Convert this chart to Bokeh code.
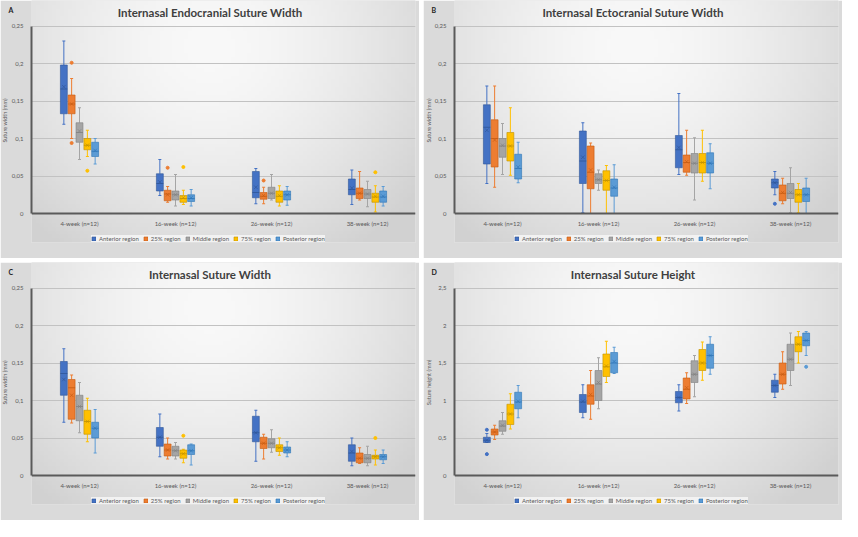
import numpy as np
from bokeh.plotting import figure
from bokeh.models import FactorRange, Range1d, Legend, LegendItem, Label, ColumnDataSource, FixedTicker
from bokeh.transform import dodge
from bokeh.layouts import row, column
from bokeh.embed import file_html
from bokeh.resources import INLINE
from bokeh.core.properties import value

weeks = ["4-week (n=12)", "16-week (n=12)", "26-week (n=12)", "38-week (n=12)"]
regions = ["Anterior region", "25% region", "Middle region", "75% region", "Posterior region"]
colors = ["#4472C4", "#ED7D31", "#A5A5A5", "#FFC000", "#5B9BD5"]
dark = ["#2F5597", "#C55A11", "#7F7F7F", "#BF9000", "#2E75B6"]

width_ticks = [0, 0.05, 0.1, 0.15, 0.2, 0.25]
width_tick_labels = ["0", "0,05", "0,1", "0,15", "0,2", "0,25"]
height_ticks = [0, 0.5, 1, 1.5, 2, 2.5]
height_tick_labels = ["0", "0,5", "1", "1,5", "2", "2,5"]

# ---- Panel A: Internasal Endocranial Suture Width ([week][region]) ----
A_upper = [[0.230, 0.180, 0.141, 0.111, 0.100], [0.072, 0.036, 0.052, 0.031, 0.032],
           [0.060, 0.035, 0.052, 0.037, 0.036], [0.058, 0.056, 0.043, 0.037, 0.036]]
A_q3 = [[0.198, 0.158, 0.121, 0.100, 0.095], [0.053, 0.031, 0.030, 0.024, 0.025],
        [0.056, 0.028, 0.035, 0.030, 0.030], [0.046, 0.034, 0.032, 0.027, 0.030]]
A_median = [[0.166, 0.146, 0.108, 0.091, 0.083], [0.040, 0.026, 0.025, 0.020, 0.020],
            [0.028, 0.023, 0.027, 0.023, 0.025], [0.032, 0.027, 0.026, 0.022, 0.022]]
A_q1 = [[0.133, 0.133, 0.095, 0.085, 0.076], [0.030, 0.017, 0.018, 0.015, 0.016],
        [0.021, 0.019, 0.020, 0.015, 0.018], [0.025, 0.020, 0.020, 0.015, 0.015]]
A_lower = [[0.119, 0.100, 0.072, 0.076, 0.066], [0.024, 0.015, 0.010, 0.012, 0.010],
           [0.013, 0.013, 0.018, 0.010, 0.011], [0.012, 0.018, 0.009, 0.002, 0.010]]
A_mean = [[0.169, 0.146, 0.110, 0.091, 0.084], [0.042, 0.025, 0.025, 0.021, 0.021],
          [0.035, 0.024, 0.027, 0.024, 0.025], [0.034, 0.027, 0.026, 0.023, 0.023]]
A_out_week = [0, 0, 0, 1, 1, 2, 3]
A_out_region = [1, 1, 3, 1, 3, 1, 3]
A_out_value = [0.201, 0.094, 0.057, 0.061, 0.062, 0.044, 0.055]

# ---- Panel B: Internasal Ectocranial Suture Width ----
B_upper = [[0.170, 0.170, 0.120, 0.141, 0.095], [0.121, 0.094, 0.058, 0.064, 0.065],
           [0.160, 0.111, 0.101, 0.111, 0.093], [0.056, 0.047, 0.061, 0.040, 0.047]]
B_q3 = [[0.145, 0.125, 0.100, 0.108, 0.079], [0.110, 0.090, 0.053, 0.057, 0.046],
        [0.104, 0.078, 0.080, 0.080, 0.081], [0.046, 0.038, 0.040, 0.032, 0.034]]
B_median = [[0.115, 0.100, 0.090, 0.090, 0.060], [0.070, 0.055, 0.045, 0.044, 0.034],
            [0.085, 0.068, 0.067, 0.068, 0.067], [0.041, 0.027, 0.027, 0.025, 0.025]]
B_q1 = [[0.066, 0.062, 0.075, 0.070, 0.046], [0.040, 0.033, 0.040, 0.031, 0.023],
        [0.061, 0.055, 0.054, 0.054, 0.054], [0.034, 0.017, 0.020, 0.015, 0.016]]
B_lower = [[0.040, 0.035, 0.052, 0.051, 0.041], [0.001, 0.000, 0.031, 0.000, 0.000],
           [0.052, 0.051, 0.018, 0.043, 0.033], [0.025, 0.013, 0.001, 0.001, 0.000]]
B_mean = [[0.111, 0.098, 0.091, 0.090, 0.062], [0.075, 0.058, 0.045, 0.044, 0.035],
          [0.088, 0.069, 0.067, 0.068, 0.067], [0.041, 0.028, 0.028, 0.025, 0.025]]
B_out_week = [3]
B_out_region = [0]
B_out_value = [0.013]

# ---- Panel C: Internasal Suture Width ----
C_upper = [[0.169, 0.134, 0.124, 0.103, 0.088], [0.082, 0.050, 0.044, 0.035, 0.042],
           [0.087, 0.055, 0.061, 0.050, 0.045], [0.050, 0.037, 0.039, 0.034, 0.034]]
C_q3 = [[0.152, 0.128, 0.107, 0.087, 0.071], [0.064, 0.042, 0.039, 0.034, 0.041],
        [0.079, 0.051, 0.049, 0.041, 0.038], [0.041, 0.030, 0.028, 0.027, 0.028]]
C_median = [[0.136, 0.117, 0.092, 0.072, 0.063], [0.051, 0.034, 0.033, 0.029, 0.033],
            [0.057, 0.043, 0.043, 0.037, 0.034], [0.030, 0.023, 0.023, 0.025, 0.025]]
C_q1 = [[0.107, 0.075, 0.073, 0.055, 0.050], [0.039, 0.026, 0.026, 0.023, 0.028],
        [0.045, 0.036, 0.037, 0.032, 0.030], [0.019, 0.017, 0.017, 0.022, 0.021]]
C_lower = [[0.071, 0.070, 0.057, 0.045, 0.030], [0.025, 0.022, 0.022, 0.017, 0.014],
           [0.019, 0.022, 0.031, 0.027, 0.025], [0.013, 0.016, 0.013, 0.014, 0.016]]
C_mean = [[0.128, 0.107, 0.092, 0.072, 0.063], [0.051, 0.034, 0.033, 0.029, 0.033],
          [0.057, 0.043, 0.043, 0.037, 0.034], [0.032, 0.023, 0.023, 0.025, 0.025]]
C_out_week = [1, 3]
C_out_region = [3, 3]
C_out_value = [0.053, 0.050]

# ---- Panel D: Internasal Suture Height ----
D_upper = [[0.56, 0.67, 0.84, 1.09, 1.20], [1.21, 1.40, 1.57, 1.79, 1.71],
           [1.21, 1.37, 1.60, 1.78, 1.85], [1.35, 1.65, 1.90, 1.92, 1.92]]
D_q3 = [[0.51, 0.62, 0.73, 0.95, 1.11], [1.08, 1.21, 1.40, 1.62, 1.64],
        [1.12, 1.30, 1.53, 1.68, 1.75], [1.27, 1.50, 1.75, 1.85, 1.90]]
D_median = [[0.47, 0.58, 0.66, 0.82, 0.98], [0.98, 1.06, 1.22, 1.45, 1.50],
            [1.04, 1.15, 1.35, 1.50, 1.60], [1.20, 1.35, 1.55, 1.75, 1.80]]
D_q1 = [[0.44, 0.54, 0.59, 0.68, 0.89], [0.84, 0.95, 1.00, 1.32, 1.37],
        [0.97, 1.02, 1.24, 1.40, 1.43], [1.11, 1.22, 1.40, 1.65, 1.73]]
D_lower = [[0.44, 0.48, 0.55, 0.62, 0.77], [0.77, 0.75, 0.89, 1.24, 1.36],
           [0.86, 0.96, 1.05, 1.27, 1.35], [1.04, 1.15, 1.20, 1.50, 1.60]]
D_mean = [[0.47, 0.58, 0.67, 0.82, 0.99], [0.99, 1.08, 1.24, 1.46, 1.52],
          [1.04, 1.17, 1.35, 1.50, 1.60], [1.20, 1.35, 1.55, 1.75, 1.80]]
D_out_week = [0, 0, 3]
D_out_region = [0, 0, 4]
D_out_value = [0.61, 0.285, 1.45]

OFFSETS = [-0.163, -0.082, 0.0, 0.082, 0.163]
BOX_W = 0.072
FONT = "Lato"
TXT = "#595959"
EDGE = "#dadada"
PW, PH = 419, 258
LEFT, RIGHT, BOTTOM = 31, 4, 16
TOP_PX = 25.5         # canvas y of the top gridline
ZERO_PX = 213.0       # canvas y of the zero line
FRAME_BOTTOM = float(PH - BOTTOM)
FRAME_W = float(PW - LEFT - RIGHT)
PX_X = FRAME_W / 4.0  # pixels per category


def gradient_image():
    # decorative radial background (white centre, grey edges), panel-relative
    H, W = 64, 96
    u = (LEFT + (np.arange(W) + 0.5) / W * FRAME_W) / PW
    v = (PH - (FRAME_BOTTOM - (np.arange(H) + 0.5) / H * FRAME_BOTTOM)) / PH
    U, V = np.meshgrid(u, v)
    d = np.sqrt(((U - 0.5) / 0.62) ** 2 + ((V - 0.82) / 0.95) ** 2)
    d = np.clip(d, 0, 1)
    g = (249 - 40 * d ** 1.6).astype(np.uint8)
    img = np.empty((H, W), dtype=np.uint32)
    view = img.view(dtype=np.uint8).reshape((H, W, 4))
    view[:, :, 0] = g
    view[:, :, 1] = g
    view[:, :, 2] = g
    view[:, :, 3] = 255
    return img


def make_panel(letter, title, ylabel, ymax, ticks, tick_labels,
               upper, q3, med, q1, lower, mean, ow, orr, ov):
    ppu = (ZERO_PX - TOP_PX) / ymax  # pixels per data unit
    y_hi = ZERO_PX / ppu
    y_lo = -(FRAME_BOTTOM - ZERO_PX) / ppu
    p = figure(width=PW, height=PH, x_range=FactorRange(*weeks, range_padding=0),
               y_range=Range1d(y_lo, y_hi), output_backend="svg", toolbar_location=None,
               min_border_left=LEFT, min_border_right=RIGHT, min_border_top=0,
               min_border_bottom=BOTTOM,
               background_fill_color=EDGE, border_fill_color=EDGE, outline_line_color=None)
    p.image_rgba(image=[gradient_image()], x=0, y=y_lo, dw=4, dh=y_hi - y_lo, level="image")
    p.xgrid.grid_line_color = None
    p.ygrid.grid_line_color = "#c2c2c2"
    p.ygrid.grid_line_width = 1
    p.yaxis.ticker = FixedTicker(ticks=ticks)
    p.ygrid.ticker = FixedTicker(ticks=ticks)
    p.yaxis.major_label_overrides = {t: l for t, l in zip(ticks, tick_labels)}
    p.yaxis.bounds = (0, ymax)
    p.xaxis.fixed_location = 0
    for ax in (p.xaxis[0], p.yaxis[0]):
        ax.axis_line_color = "#5a5a5a"
        ax.axis_line_width = 2
        ax.major_tick_line_color = None
        ax.minor_tick_line_color = None
        ax.major_tick_out = 0
        ax.major_tick_in = 0
        ax.minor_tick_out = 0
        ax.minor_tick_in = 0
        ax.major_label_text_font = FONT
        ax.major_label_text_font_size = "6px"
        ax.major_label_text_color = TXT
    p.xaxis.major_label_standoff = 6
    p.yaxis.major_label_standoff = 8

    # y-axis title, drawn as text next to the axis
    p.text(x=[-26.0 / PX_X], y=[(ZERO_PX - 120.0) / ppu], text=[ylabel], angle=np.pi / 2,
           level="overlay", text_align="center", text_baseline="middle", text_font=value(FONT),
           text_font_size="5.5px", text_color=TXT)

    items = []
    for r in range(5):
        src = ColumnDataSource(dict(
            x=weeks,
            upper=[upper[w][r] for w in range(4)],
            q3=[q3[w][r] for w in range(4)],
            med=[med[w][r] for w in range(4)],
            q1=[q1[w][r] for w in range(4)],
            lower=[lower[w][r] for w in range(4)],
            mean=[mean[w][r] for w in range(4)],
        ))
        xd = dodge("x", OFFSETS[r], range=p.x_range)
        p.segment(x0=xd, y0="q3", x1=xd, y1="upper", source=src, line_color=colors[r], line_width=1)
        p.segment(x0=xd, y0="q1", x1=xd, y1="lower", source=src, line_color=colors[r], line_width=1)
        p.scatter(x=xd, y="upper", source=src, marker="dash", size=3, line_color=colors[r], line_width=1.2)
        p.scatter(x=xd, y="lower", source=src, marker="dash", size=3, line_color=colors[r], line_width=1.2)
        vb = p.vbar(x=xd, width=BOX_W, top="q3", bottom="q1", source=src,
                    fill_color=colors[r], line_color=dark[r], line_width=0.6)
        p.scatter(x=xd, y="med", source=src, marker="dash", size=7, line_color=dark[r], line_width=0.8)
        p.scatter(x=xd, y="mean", source=src, marker="x", size=5, line_color=dark[r], line_width=0.8,
                  line_alpha=0.8)
        items.append(LegendItem(label=regions[r], renderers=[vb]))
        oi = [i for i in range(len(ov)) if orr[i] == r]
        if oi:
            osrc = ColumnDataSource(dict(x=[weeks[ow[i]] for i in oi], y=[ov[i] for i in oi]))
            p.scatter(x=dodge("x", OFFSETS[r], range=p.x_range), y="y", source=osrc, marker="circle",
                      size=3, fill_color=colors[r], line_color=colors[r])

    legend = Legend(items=items, orientation="horizontal", location=(60, 0),
                    label_text_font=FONT, label_text_font_size="6px", label_text_color=TXT,
                    glyph_width=5, glyph_height=5, spacing=4, label_standoff=3,
                    label_height=6, padding=4, margin=0,
                    background_fill_color="#f2f2f2", background_fill_alpha=1.0,
                    border_line_color=None)
    p.add_layout(legend, "center")

    p.add_layout(Label(x=(PW / 2.0 - LEFT) / PX_X, y=(ZERO_PX - 12.0) / ppu, text=title,
                       text_align="center", text_baseline="middle", text_font=FONT,
                       text_font_size="11.5px", text_font_style="bold", text_color="#3f3f3f"))
    p.text(x=[-23.0 / PX_X], y=[(ZERO_PX - 9.0) / ppu], text=[letter], level="overlay",
           text_align="left", text_baseline="middle", text_font=value(FONT),
           text_font_size="7px", text_font_style="bold", text_color="#222222")
    return p


pA = make_panel("A", "Internasal Endocranial Suture Width", "Suture width (mm)", 0.25,
                width_ticks, width_tick_labels, A_upper, A_q3, A_median, A_q1, A_lower, A_mean,
                A_out_week, A_out_region, A_out_value)
pB = make_panel("B", "Internasal Ectocranial Suture Width", "Suture width (mm)", 0.25,
                width_ticks, width_tick_labels, B_upper, B_q3, B_median, B_q1, B_lower, B_mean,
                B_out_week, B_out_region, B_out_value)
pC = make_panel("C", "Internasal Suture Width", "Suture width (mm)", 0.25,
                width_ticks, width_tick_labels, C_upper, C_q3, C_median, C_q1, C_lower, C_mean,
                C_out_week, C_out_region, C_out_value)
pD = make_panel("D", "Internasal Suture Height", "Suture height (mm)", 2.5,
                height_ticks, height_tick_labels, D_upper, D_q3, D_median, D_q1, D_lower, D_mean,
                D_out_week, D_out_region, D_out_value)

layout = column(row(pA, pB, spacing=4), row(pC, pD, spacing=4), spacing=4)
open("out.html", "w").write(file_html(layout, INLINE))
